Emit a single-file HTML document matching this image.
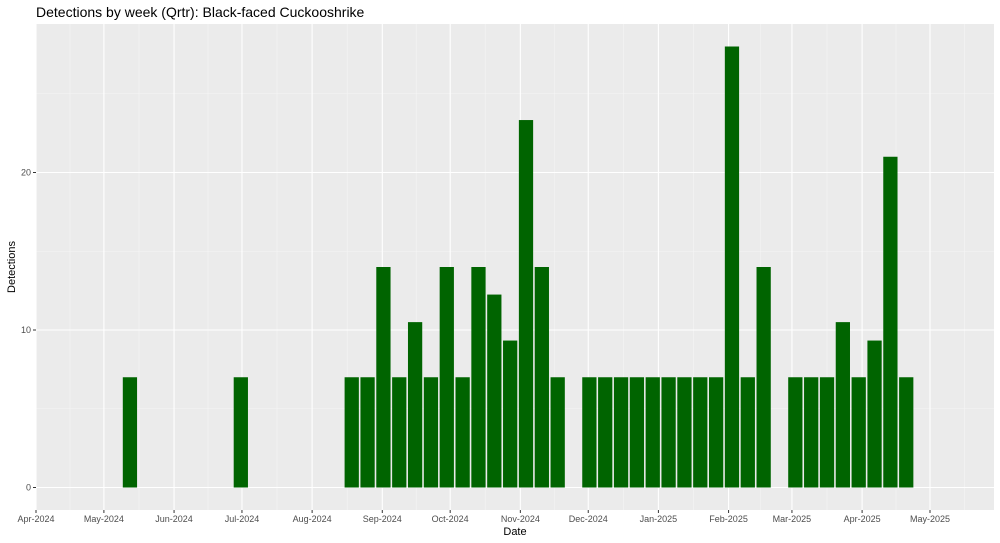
<!DOCTYPE html>
<html><head><meta charset="utf-8"><style>
body{margin:0;background:#fff;}
svg{display:block;font-family:"Liberation Sans",sans-serif;}
</style></head><body>
<svg id="chart" width="1000" height="543" xmlns="http://www.w3.org/2000/svg">
<text x="36" y="17" font-size="14" fill="#000">Detections by week (Qrtr): Black-faced Cuckooshrike</text>
<rect x="36" y="24" width="958" height="486" fill="#ebebeb"/>
<g id="grid"></g><g id="bars"></g><g id="axes"></g>
<text x="515" y="535" font-size="11" text-anchor="middle">Date</text>
<text transform="translate(15,267) rotate(-90)" font-size="11" text-anchor="middle">Detections</text>
</svg>
<script>
const weekStarts = ["2024-05-09","2024-06-27","2024-08-15","2024-08-22","2024-08-29","2024-09-05","2024-09-12","2024-09-19","2024-09-26","2024-10-03","2024-10-10","2024-10-17","2024-10-24","2024-10-31","2024-11-07","2024-11-14","2024-11-28","2024-12-05","2024-12-12","2024-12-19","2024-12-26","2025-01-02","2025-01-09","2025-01-16","2025-01-23","2025-01-30","2025-02-06","2025-02-13","2025-02-27","2025-03-06","2025-03-13","2025-03-20","2025-03-27","2025-04-03","2025-04-10","2025-04-17"];
const detections = [7,7,7,7,14,7,10.5,7,14,7,14,12.25,9.33,23.33,14,7,7,7,7,7,7,7,7,7,7,28,7,14,7,7,7,10.5,7,9.33,21,7];
const xTickDates = ["2024-04-01","2024-05-01","2024-06-01","2024-07-01","2024-08-01","2024-09-01","2024-10-01","2024-11-01","2024-12-01","2025-01-01","2025-02-01","2025-03-01","2025-04-01","2025-05-01"];
const xTickLabels = ["Apr-2024","May-2024","Jun-2024","Jul-2024","Aug-2024","Sep-2024","Oct-2024","Nov-2024","Dec-2024","Jan-2025","Feb-2025","Mar-2025","Apr-2025","May-2025"];
const yTicks = [0,10,20];

const NS="http://www.w3.org/2000/svg";
const D0=Date.UTC(2024,3,1), DAY=86400000, PXD=(930-36)/395;
function dayOf(s){const p=s.split('-');return (Date.UTC(+p[0],+p[1]-1,+p[2])-D0)/DAY;}
function xs(d){return 36+d*PXD;}
function ys(v){return 487.5-v*15.75;}
function mk(tag,attrs,parent){const e=document.createElementNS(NS,tag);for(const k in attrs)e.setAttribute(k,attrs[k]);parent.appendChild(e);return e;}
const grid=document.getElementById('grid'),bars=document.getElementById('bars'),axes=document.getElementById('axes');
// minor vertical grid
for(let i=0;i<xTickDates.length;i++){
  const d=dayOf(xTickDates[i]);
  const dn=i+1<xTickDates.length?dayOf(xTickDates[i+1]):d+30.5;
  const xm=xs((d+dn)/2);
  if(xm<994){const l=mk('line',{x1:xm,x2:xm,y1:24,y2:510,stroke:'#f5f5f5','stroke-width':0.6},grid);
  
  }
}
[5,15,25].forEach(v=>{const l=mk('line',{x1:36,x2:994,y1:ys(v),y2:ys(v),stroke:'#f5f5f5','stroke-width':0.6},grid);
  
  });
xTickDates.forEach((s,i)=>{const x=xs(dayOf(s));
  const l=mk('line',{x1:x,x2:x,y1:24,y2:510,stroke:'#fff','stroke-width':1.1},grid);
  
  
  const t=mk('line',{x1:x,x2:x,y1:510,y2:513,stroke:'#333','stroke-width':1},axes);
  
  
  const tx=mk('text',{x:x,y:522,'font-size':9,'text-anchor':'middle',fill:'#4d4d4d'},axes);
  tx.textContent=xTickLabels[i];
  
  
});
yTicks.forEach(v=>{const y=ys(v);
  const l=mk('line',{x1:36,x2:994,y1:y,y2:y,stroke:'#fff','stroke-width':1.1},grid);
  
  
  const t=mk('line',{x1:33,x2:36,y1:y,y2:y,stroke:'#333','stroke-width':1},axes);
  
  
  const tx=mk('text',{x:31,y:y+3,'font-size':9,'text-anchor':'end',fill:'#4d4d4d'},axes);
  tx.textContent=v;
  
  
});
weekStarts.forEach((s,i)=>{const c=xs(dayOf(s)+3.5);const w=7*PXD*0.9;
  const r=mk('rect',{x:c-w/2,y:ys(detections[i]),width:w,height:ys(0)-ys(detections[i]),fill:'#006400'},bars);
  
  
});
</script>
</body></html>
